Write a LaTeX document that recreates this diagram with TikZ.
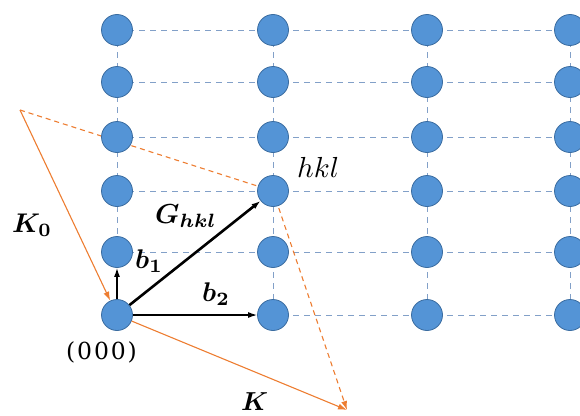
\documentclass[tikz,border=0pt]{standalone}
\usepackage{amsmath,bm}
\usepackage{fontspec}
\newfontfamily\widefont{DejaVu Serif}
\usetikzlibrary{arrows.meta}
\definecolor{nodeblue}{RGB}{84,148,214}
\definecolor{nodeedge}{RGB}{58,108,160}
\definecolor{gridc}{RGB}{130,160,200}
\definecolor{kor}{RGB}{237,125,49}
\begin{document}
\begin{tikzpicture}[x=1pt,y=-1pt,
  site/.style={circle,fill=nodeblue,draw=nodeedge,line width=0.8pt,minimum size=31pt,inner sep=0pt},
  gridline/.style={gridc,dash pattern=on 6pt off 5pt,line width=0.8pt},
  vec/.style={-{Latex[length=9pt,width=6pt]},line width=1.4pt},
  kvec/.style={kor,line width=1.1pt,-{Latex[length=9pt,width=6pt]}},
  kdash/.style={kor,line width=1.1pt,dash pattern=on 5pt off 4pt},
  lab/.style={inner sep=0pt,anchor=base west}]
\useasboundingbox (0,0) rectangle (580,415);
\foreach \c/\x in {1/117,2/273,3/427,4/570}
  \foreach \r/\y in {1/30,2/82,3/137,4/191,5/252,6/315}
    \coordinate (p\c\r) at (\x,\y);
\coordinate (A) at (20,110);
\coordinate (B) at (347,410);
% grid
\foreach \r in {1,...,6}
  \draw[gridline] (p1\r) -- (p2\r) -- (p3\r) -- (p4\r);
\foreach \c in {1,...,4}
  \draw[gridline] (p\c1) -- (p\c6);
% orange dashed (under sites)
\draw[kdash] (A) -- (p24);
\draw[kdash,-{Latex[length=9pt,width=6pt]}] (p24) -- (B);
% sites
\foreach \c in {1,...,4}
  \foreach \r in {1,...,6}
    \node[site] (n\c\r) at (p\c\r) {};
% orange vectors
\draw[kvec] (A) -- (n16);
\draw[kvec] (n16) -- (B);
% black vectors
\draw[vec,line width=2.6pt] (n16) -- (n24);
\draw[vec] (n16) -- (n15);
\draw[vec] (n16) -- (n26);
% labels
\node[lab] (lhkl) at (297,177) {\scalebox{2.9}{$hkl$}};
\node[lab] (lG) at (155,223) {\scalebox{2.75}{$\bm{G_{hkl}}$}};
\node[lab] (lb1) at (135,268) {\scalebox{2.7}{$\bm{b_1}$}};
\node[lab] (lb2) at (202,301) {\scalebox{2.7}{$\bm{b_2}$}};
\node[lab] (lK0) at (12,232) {\scalebox{2.7}{$\bm{K_0}$}};
\node[lab] (lK) at (241,410) {\scalebox{2.6}{$\bm{K}$}};
\node[lab] (l000) at (66,359) {\scalebox{2.35}{\widefont(\kern0.8pt0\kern0.8pt0\kern0.8pt0\kern0.8pt)}};
\end{tikzpicture}
\end{document}
